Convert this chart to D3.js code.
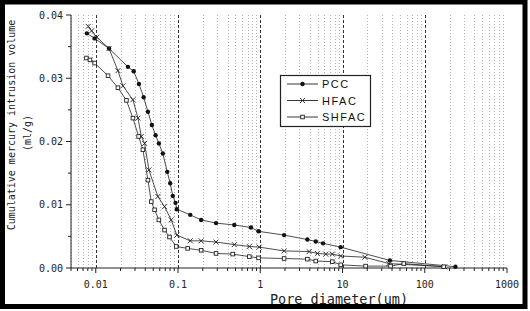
<!DOCTYPE html>
<html>
<head>
<meta charset="utf-8">
<script src="https://cdn.jsdelivr.net/npm/d3@7"></script>
<style>
  body { margin: 0; background: #fff; }
  svg { display: block; }
  .tick-label { font: 10px "DejaVu Sans Mono", monospace; fill: #222; }
  .axis-title { font: 10px "DejaVu Sans Mono", monospace; fill: #222; }
  .legend text { font: 11px "Liberation Sans", Arial, sans-serif; letter-spacing: 1.5px; fill: #111; }
</style>
</head>
<body>
<div id="chart"></div>
<script>
// pore diameter (um) and cumulative intrusion volume (ml/g)
var pccD = [0.0078, 0.0097, 0.0145, 0.0246, 0.0289, 0.0335, 0.0382, 0.0431, 0.0481, 0.0534,
  0.0585, 0.0654, 0.074, 0.0804, 0.0865, 0.0933, 0.0967, 0.141, 0.191, 0.29, 0.484, 0.771,
  0.953, 1.95, 3.74, 4.73, 5.8, 9.51, 37.7, 236];
var pccV = [0.0371, 0.0363, 0.0347, 0.0318, 0.0311, 0.0291, 0.027, 0.0247, 0.0226, 0.021,
  0.0197, 0.0181, 0.0152, 0.0134, 0.0114, 0.0103, 0.0093, 0.0084, 0.0076, 0.0071, 0.0068, 0.0064,
  0.0058, 0.0052, 0.0045, 0.0042, 0.0039, 0.0033, 0.0012, 0.0002];

var hfacD = [0.0081, 0.0089, 0.0103, 0.0145, 0.0186, 0.0214, 0.0283, 0.0326, 0.0358, 0.0393,
  0.0443, 0.0569, 0.0686, 0.0827, 0.0967, 0.141, 0.191, 0.29, 0.484, 0.736, 0.972, 1.95,
  3.93, 4.95, 6.25, 7.52, 9.51, 18.7, 36.6, 175];
var hfacV = [0.0382, 0.0375, 0.0365, 0.0347, 0.0312, 0.0288, 0.0266, 0.0237, 0.0208, 0.0197,
  0.0155, 0.0113, 0.0097, 0.0076, 0.0052, 0.0043, 0.0043, 0.0041, 0.0037, 0.0034, 0.0033, 0.0027,
  0.0026, 0.0023, 0.0022, 0.0022, 0.0019, 0.0017, 0.0007, 0.0002];

var shfacD = [0.0077, 0.0085, 0.0097, 0.0141, 0.0186, 0.0236, 0.0283, 0.0332, 0.0374, 0.0431,
  0.0473, 0.0519, 0.0585, 0.0686, 0.0788, 0.0951, 0.131, 0.191, 0.29, 0.462, 0.736, 0.953,
  1.95, 3.74, 4.73, 7.52, 9.51, 19.1, 38.4, 55.6, 170];
var shfacV = [0.0332, 0.0329, 0.0324, 0.0304, 0.0285, 0.0265, 0.0237, 0.0208, 0.0187, 0.0139,
  0.0105, 0.0092, 0.0076, 0.006, 0.0049, 0.0034, 0.0031, 0.0028, 0.0023, 0.0022, 0.0018, 0.0016,
  0.0015, 0.0014, 0.0011, 0.001, 0.0005, 0.0003, 0.0003, 0.0007, 0.0002];

var xTickLabels = ["0.01", "0.1", "1", "10", "100", "1000"];
var yTicks = [0, 0.01, 0.02, 0.03, 0.04];
var seriesNames = ["PCC", "HFAC", "SHFAC"];

var W = 530, H = 311;
var margin = {top: 15, right: 23, bottom: 43, left: 71};

var svg = d3.select("#chart").append("svg")
  .attr("width", W)
  .attr("height", H);

var x = d3.scaleLog().domain([0.005, 1000]).range([margin.left, W - margin.right]);
var y = d3.scaleLinear().domain([0, 0.04]).range([H - margin.bottom, margin.top]);

var y0 = y(0), yTop = y(0.04);

// vertical grid: light dotted at minor ticks, darker dashed at decades
var allTicks = x.ticks();
var isMajor = function(v) { return Math.abs(Math.log10(v) - Math.round(Math.log10(v))) < 1e-6; };

svg.append("g").selectAll("line")
  .data(allTicks.filter(function(v) { return !isMajor(v); }))
  .enter().append("line")
    .attr("x1", function(d) { return Math.round(x(d)) + 0.5; })
    .attr("x2", function(d) { return Math.round(x(d)) + 0.5; })
    .attr("y1", yTop).attr("y2", y0)
    .attr("stroke", "#b4b4b4").attr("stroke-width", 1)
    .attr("stroke-dasharray", "1,2");

svg.append("g").selectAll("line")
  .data(allTicks.filter(function(v) { return isMajor(v) && v < 1000; }))
  .enter().append("line")
    .attr("x1", function(d) { return Math.round(x(d)) + 0.5; })
    .attr("x2", function(d) { return Math.round(x(d)) + 0.5; })
    .attr("y1", yTop).attr("y2", y0)
    .attr("stroke", "#333").attr("stroke-width", 1)
    .attr("stroke-dasharray", "3,2");

// x axis
var xAxis = svg.append("g").attr("transform", "translate(0," + y0 + ")");
xAxis.append("line").attr("x1", margin.left).attr("x2", x(1000)).attr("stroke", "#222");
xAxis.selectAll(".t").data(allTicks).enter().append("line")
  .attr("x1", function(d) { return x(d); }).attr("x2", function(d) { return x(d); })
  .attr("y1", 0).attr("y2", function(d) { return isMajor(d) ? 5 : 3; })
  .attr("stroke", "#222");
xAxis.selectAll("text").data(xTickLabels).enter().append("text")
  .attr("class", "tick-label")
  .attr("x", function(d) { return x(+d); })
  .attr("y", 20)
  .attr("text-anchor", "middle")
  .text(function(d) { return d; });

// y axis
var yAxis = svg.append("g").attr("transform", "translate(" + margin.left + ",0)");
yAxis.append("line").attr("y1", yTop).attr("y2", y0).attr("stroke", "#222");
var yMinor = d3.range(0, 0.0401, 0.005);
yAxis.selectAll(".t").data(yMinor).enter().append("line")
  .attr("y1", function(d) { return y(d); }).attr("y2", function(d) { return y(d); })
  .attr("x1", function(d, i) { return i % 2 === 0 ? -5 : -3; }).attr("x2", 0)
  .attr("stroke", "#222");
yAxis.selectAll("text").data(yTicks).enter().append("text")
  .attr("class", "tick-label")
  .attr("x", -8)
  .attr("y", function(d) { return y(d) + 3.5; })
  .attr("text-anchor", "end")
  .text(d3.format(".2f"));

// axis titles
svg.append("text").attr("class", "axis-title")
  .attr("transform", "translate(15,125) rotate(-90)")
  .attr("text-anchor", "middle")
  .text("Cumulative mercury intrusion volume");
svg.append("text").attr("class", "axis-title")
  .attr("transform", "translate(31,133) rotate(-90)")
  .attr("text-anchor", "middle")
  .text("(ml/g)");
svg.append("text").attr("class", "axis-title")
  .style("font-size", "13.5px")
  .attr("x", 339).attr("y", 304)
  .attr("text-anchor", "middle")
  .text("Pore diameter(um)");

// series
var series = [
  {name: seriesNames[0], d: pccD, v: pccV, marker: "circle"},
  {name: seriesNames[1], d: hfacD, v: hfacV, marker: "cross"},
  {name: seriesNames[2], d: shfacD, v: shfacV, marker: "square"}
];

var line = d3.line()
  .x(function(p) { return x(p[0]); })
  .y(function(p) { return y(p[1]); });

function drawMarker(g, type) {
  if (type === "circle") {
    g.append("circle").attr("r", 2.2).attr("fill", "#111");
  } else if (type === "cross") {
    g.append("path").attr("d", "M-2.5,-2.5L2.5,2.5M-2.5,2.5L2.5,-2.5")
      .attr("stroke", "#222").attr("stroke-width", 0.9).attr("fill", "none");
  } else {
    g.append("rect").attr("x", -1.8).attr("y", -1.8).attr("width", 3.6).attr("height", 3.6)
      .attr("fill", "#fff").attr("stroke", "#222").attr("stroke-width", 0.9);
  }
}

series.forEach(function(s) {
  var pts = d3.zip(s.d, s.v);
  svg.append("path")
    .datum(pts)
    .attr("d", line)
    .attr("fill", "none")
    .attr("stroke", "#222")
    .attr("stroke-width", 0.8);
  svg.append("g").selectAll("g")
    .data(pts)
    .enter().append("g")
      .attr("transform", function(p) { return "translate(" + x(p[0]) + "," + y(p[1]) + ")"; })
      .each(function() { drawMarker(d3.select(this), s.marker); });
});

// legend
var legend = svg.append("g").attr("class", "legend");
legend.append("rect")
  .attr("x", 280.5).attr("y", 75.5).attr("width", 90).attr("height", 51)
  .attr("fill", "#fff").attr("stroke", "#222").attr("stroke-width", 1.2);
series.forEach(function(s, i) {
  var ly = 84 + i * 16.5;
  legend.append("line").attr("x1", 287).attr("x2", 318).attr("y1", ly).attr("y2", ly)
    .attr("stroke", "#222").attr("stroke-width", 0.9);
  drawMarker(legend.append("g").attr("transform", "translate(302.5," + ly + ")"), s.marker);
  legend.append("text").attr("x", 322).attr("y", ly + 4).text(s.name);
});

// outer frame
svg.append("rect")
  .attr("x", 2.5).attr("y", 2).attr("width", W - 7.5).attr("height", H - 6.5)
  .attr("fill", "none").attr("stroke", "#000").attr("stroke-width", 5);
</script>
</body>
</html>
